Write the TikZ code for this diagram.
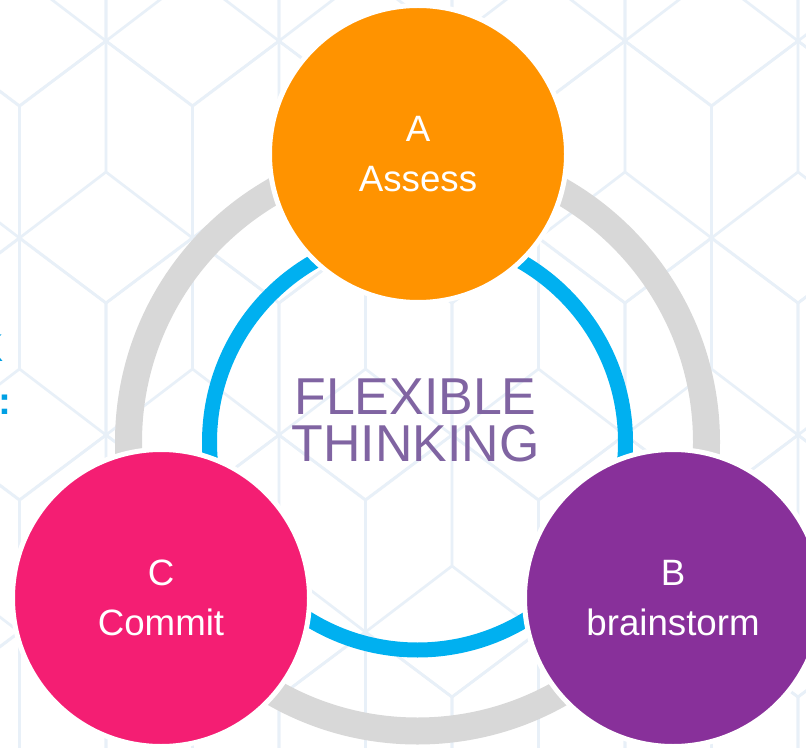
\documentclass[tikz,border=0pt]{standalone}
\usepackage{fontspec}
\setmainfont{Liberation Sans}
\definecolor{hexgrid}{HTML}{E8F0F8}
\definecolor{ringgray}{HTML}{D8D8D8}
\definecolor{ringblue}{HTML}{00B0F0}
\definecolor{stageA}{HTML}{FF9300}
\definecolor{stageB}{HTML}{88309A}
\definecolor{stageC}{HTML}{F41E73}
\definecolor{titlepurple}{HTML}{8064A2}
\definecolor{fragblue}{HTML}{00A0E4}
\begin{document}
\begin{tikzpicture}[x=0.75pt,y=-0.75pt,
  hexline/.style={draw=hexgrid, line width=2pt, line join=round},
  grayring/.style={draw=ringgray, line width=20.25pt},
  bluering/.style={draw=ringblue, line width=11.25pt},
  stage/.style={circle, draw=white, line width=3.75pt, minimum size=222.75pt,
    inner sep=0pt, text=white, align=center,
    font=\fontsize{27.5pt}{37.5pt}\selectfont},
  titletext/.style={inner sep=0pt, text=titlepurple, align=center,
    font=\fontsize{38.9pt}{35.25pt}\selectfont},
  fragtext/.style={inner sep=0pt, text=fragblue, anchor=base east,
    font=\fontsize{29pt}{35pt}\selectfont\bfseries}]
\useasboundingbox (0,0) rectangle (806,748);
\clip (0,0) rectangle (806,748);
\fill[white] (0,0) rectangle (806,748);

% tumbling-blocks background: hexagons with three inner cube edges
\foreach \r in {-1,...,4}{
  \foreach \k in {-1,...,5}{
    \pgfmathsetmacro\cx{106+173*\k-86.5*mod(abs(\r),2)}
    \pgfmathsetmacro\cy{172+197*\r}
    \draw[hexline] (\cx,\cy-131) -- (\cx+86.5,\cy-66) -- (\cx+86.5,\cy+66)
      -- (\cx,\cy+131) -- (\cx-86.5,\cy+66) -- (\cx-86.5,\cy-66) -- cycle;
    \draw[hexline] (\cx-86.5,\cy+66) -- (\cx,\cy) -- (\cx+86.5,\cy+66)
      (\cx,\cy) -- (\cx,\cy-131);
  }
}

% text running in from the left
\node[fragtext] (fragK) at (4,361) {K};
\node[fragtext] (fragColon) at (12,414) {:};

% cycle rings
\coordinate (ringc) at (417.5,442);
\draw[grayring] (ringc) circle (289);
\draw[bluering] (ringc) circle (208);

% stages
\node[stage, fill=stageA] (A) at (418,154) {A\\Assess};
\node[stage, fill=stageB] (B) at (673,598) {B\\brainstorm};
\node[stage, fill=stageC] (C) at (161,598) {C\\Commit};

\node[titletext] (title) at (415.5,420) {FLEXIBLE\\THINKING};
\end{tikzpicture}
\end{document}
